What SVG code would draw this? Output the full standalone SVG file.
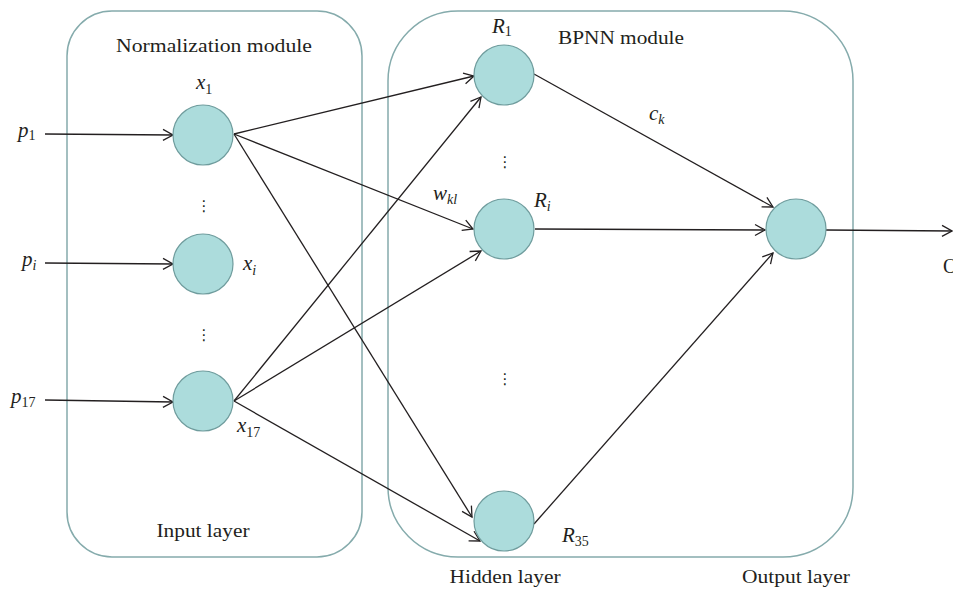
<svg xmlns="http://www.w3.org/2000/svg" width="953" height="591" viewBox="0 0 953 591">
<style>
.box{fill:none;stroke:#85abac;stroke-width:1.5}
.node{fill:#acdcdc;stroke:#6f9c9d;stroke-width:1.2}
.lbl{font-family:"Liberation Serif",serif;font-size:19px;fill:#231f20}
.m{font-family:"Liberation Serif",serif;font-size:21px;font-style:italic;fill:#231f20}
.s{font-size:14px;font-style:normal}
.si{font-size:14px;font-style:italic}
.dots{font-family:"DejaVu Sans",sans-serif;font-size:15px;fill:#231f20;text-anchor:middle}
.c{stroke:#231f20;stroke-width:1.3;fill:none;marker-end:url(#arr)}
</style>
<defs>
<marker id="arr" markerUnits="userSpaceOnUse" viewBox="-12 -8 14 16" markerWidth="14" markerHeight="16" refX="0" refY="0" orient="auto">
<path d="M-10,-5.5 L0,0 L-10,5.5" fill="none" stroke="#231f20" stroke-width="1.3"/>
</marker>
</defs>
<rect width="953" height="591" fill="#fff"/>
<g id="normalization-module">
<rect class="box" x="67" y="11" width="295" height="546" rx="45" ry="45"/>
<text class="lbl" x="214" y="52" text-anchor="middle" textLength="196" lengthAdjust="spacingAndGlyphs">Normalization module</text>
<text class="lbl" x="203" y="537" text-anchor="middle" textLength="93" lengthAdjust="spacingAndGlyphs">Input layer</text>
</g>
<g id="bpnn-module">
<rect class="box" x="388" y="11" width="465" height="546" rx="70" ry="70"/>
<text class="lbl" x="621" y="44" text-anchor="middle" textLength="126" lengthAdjust="spacingAndGlyphs">BPNN module</text>
</g>
<text class="lbl" x="505" y="583" text-anchor="middle" textLength="111" lengthAdjust="spacingAndGlyphs">Hidden layer</text>
<text class="lbl" x="796" y="583" text-anchor="middle" textLength="108" lengthAdjust="spacingAndGlyphs">Output layer</text>
<g id="connectors">
<line class="c" x1="45" y1="134" x2="173" y2="135"/>
<line class="c" x1="45" y1="263" x2="173" y2="264"/>
<line class="c" x1="45" y1="400" x2="173" y2="402"/>
<line class="c" x1="234" y1="134" x2="474" y2="76"/>
<line class="c" x1="234" y1="134" x2="473" y2="229"/>
<line class="c" x1="234" y1="134" x2="472" y2="517"/>
<line class="c" x1="234" y1="401" x2="481" y2="97"/>
<line class="c" x1="234" y1="401" x2="481" y2="251"/>
<line class="c" x1="234" y1="401" x2="480" y2="541"/>
<line class="c" x1="534" y1="74" x2="773" y2="207"/>
<line class="c" x1="535" y1="229" x2="765" y2="230"/>
<line class="c" x1="534" y1="524" x2="773" y2="253"/>
<line class="c" x1="826" y1="230" x2="952" y2="231"/>
</g>
<g id="p-labels">
<text class="m" x="18" y="137">p<tspan class="s" dy="3">1</tspan></text>
<text class="m" x="22" y="266">p<tspan class="si" dy="4">i</tspan></text>
<text class="m" x="11" y="403">p<tspan class="s" dy="4">17</tspan></text>
</g>
<g id="x1">
<circle class="node" cx="203" cy="135" r="30"/>
<text class="m" x="196" y="89">x<tspan class="s" dy="5">1</tspan></text>
</g>
<g id="xi">
<circle class="node" cx="203" cy="264" r="30"/>
<text class="m" x="243" y="270">x<tspan class="si" dy="5">i</tspan></text>
</g>
<g id="x17">
<circle class="node" cx="203" cy="401" r="30"/>
<text class="m" x="237" y="432">x<tspan class="s" dy="5">17</tspan></text>
</g>
<text class="dots" x="204" y="211">⋮</text>
<text class="dots" x="204" y="340">⋮</text>
<text class="dots" x="505" y="167">⋮</text>
<text class="dots" x="505" y="384">⋮</text>
<g id="R1">
<circle class="node" cx="504" cy="75" r="30"/>
<text class="m" x="492" y="33">R<tspan class="s" dy="3">1</tspan></text>
</g>
<g id="Ri">
<circle class="node" cx="504" cy="229" r="30"/>
<text class="m" x="534" y="207">R<tspan class="si" dy="4">i</tspan></text>
</g>
<g id="R35">
<circle class="node" cx="504" cy="521" r="30"/>
<text class="m" x="562" y="542">R<tspan class="s" dy="4">35</tspan></text>
</g>
<g id="output">
<circle class="node" cx="796" cy="229" r="30"/>
</g>
<text class="m" x="433" y="200">w<tspan class="si" dy="4">kl</tspan></text>
<text class="m" x="649" y="120">c<tspan class="si" dy="4">k</tspan></text>
<text class="lbl" x="943" y="273" style="font-size:20px">O</text>
</svg>
